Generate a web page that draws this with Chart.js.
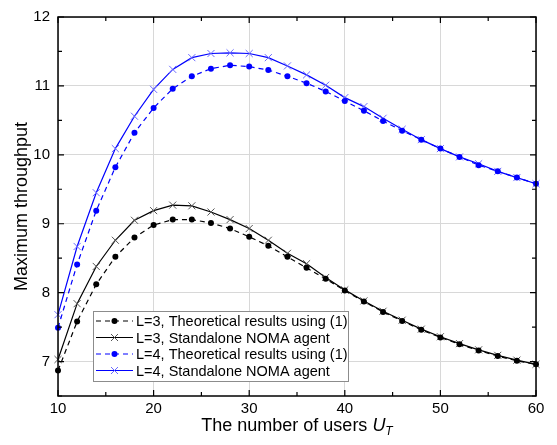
<!DOCTYPE html>
<html>
<head>
<meta charset="utf-8">
<script src="https://cdn.jsdelivr.net/npm/chart.js@4.4.1/dist/chart.umd.min.js"></script>
<style>
  body { margin: 0; background: #fff; }
  #wrap { width: 557px; height: 445px; }
</style>
</head>
<body>
<div id="wrap"><canvas id="graphicLine" width="557" height="445"></canvas></div>
<script>
// number of users
const users = [10, 12, 14, 16, 18, 20, 22, 24, 26, 28, 30, 32, 34, 36, 38, 40, 42, 44, 46, 48, 50, 52, 54, 56, 58, 60];

const l3Theory = [6.87, 7.58, 8.12, 8.52, 8.80, 8.98, 9.06, 9.06, 9.01, 8.93, 8.81, 8.68, 8.52,
                  8.36, 8.20, 8.03, 7.87, 7.72, 7.59, 7.46, 7.35, 7.25, 7.16, 7.08, 7.01, 6.96];
const l3Agent = [7.03, 7.84, 8.38, 8.76, 9.05, 9.19, 9.27, 9.26, 9.17, 9.06, 8.93, 8.76, 8.57,
                 8.42, 8.22, 8.04, 7.88, 7.73, 7.60, 7.47, 7.36, 7.26, 7.17, 7.09, 7.02, 6.96];
const l4Theory = [7.49, 8.41, 9.19, 9.82, 10.32, 10.68, 10.96, 11.14, 11.25, 11.30, 11.28, 11.23, 11.14,
                  11.04, 10.92, 10.78, 10.64, 10.49, 10.35, 10.22, 10.09, 9.97, 9.85, 9.76, 9.67, 9.58];
const l4Agent = [7.68, 8.67, 9.45, 10.09, 10.56, 10.95, 11.24, 11.41, 11.47, 11.48, 11.47, 11.41, 11.29,
                 11.16, 11.01, 10.83, 10.70, 10.53, 10.37, 10.22, 10.09, 9.97, 9.87, 9.76, 9.67, 9.58];

const seriesLabels = [
    "L=3, Theoretical results using (1)",
    "L=3, Standalone NOMA agent",
    "L=4, Theoretical results using (1)",
    "L=4, Standalone NOMA agent",
];

const xTicks = [10, 20, 30, 40, 50, 60];
const yTicks = [7, 8, 9, 10, 11, 12];

const FONT = "Liberation Sans, Arial, sans-serif";

const toPts = (vals) => vals.map((v, i) => ({ x: users[i], y: v }));

function dots(label, vals, color) {
    return {
        label: label,
        data: toPts(vals),
        borderColor: color,
        backgroundColor: color,
        borderWidth: 1.2,
        borderDash: [5, 4],
        pointStyle: "circle",
        pointRadius: 3,
        pointBorderWidth: 0,
        tension: 0,
        clip: false,
    };
}

function crosses(label, vals, color, markColor) {
    return {
        label: label,
        data: toPts(vals),
        borderColor: color,
        backgroundColor: color,
        borderWidth: 1.2,
        pointStyle: "crossRot",
        pointRadius: 5,
        pointBorderColor: markColor,
        pointBorderWidth: 1,
        tension: 0,
        clip: false,
    };
}

// frame, inward ticks, legend box and axis titles
const framePlugin = {
    id: "frame",
    afterDraw(chart) {
        const ctx = chart.ctx;
        const a = chart.chartArea;
        const xs = chart.scales.x;
        const ys = chart.scales.y;
        ctx.save();
        ctx.strokeStyle = "#000";
        ctx.lineWidth = 1.5;
        ctx.strokeRect(a.left, a.top, a.right - a.left, a.bottom - a.top);

        ctx.lineWidth = 1.2;
        ctx.beginPath();
        for (let v = 10; v <= 60; v += 5) {
            const len = v % 10 === 0 ? 6 : 4;
            const px = xs.getPixelForValue(v);
            ctx.moveTo(px, a.bottom); ctx.lineTo(px, a.bottom - len);
            ctx.moveTo(px, a.top); ctx.lineTo(px, a.top + len);
        }
        for (let v = 6.5; v <= 12; v += 0.5) {
            const len = v % 1 === 0 ? 6 : 4;
            const py = ys.getPixelForValue(v);
            ctx.moveTo(a.left, py); ctx.lineTo(a.left + len, py);
            ctx.moveTo(a.right, py); ctx.lineTo(a.right - len, py);
        }
        ctx.stroke();

        // legend
        const bx = a.left + 35, bw = 255, bh = 70;
        const by = a.bottom - 15 - bh;
        ctx.fillStyle = "#fff";
        ctx.fillRect(bx, by, bw, bh);
        ctx.strokeStyle = "#8c8c8c";
        ctx.lineWidth = 1;
        ctx.strokeRect(bx + 0.5, by + 0.5, bw, bh);
        ctx.font = "14.5px " + FONT;
        ctx.textBaseline = "middle";
        chart.data.datasets.forEach((ds, i) => {
            const cy = by + 10 + i * 16.5;
            const x0 = bx + 3, x1 = bx + 40, xm = (x0 + x1) / 2;
            ctx.strokeStyle = ds.borderColor;
            ctx.lineWidth = 1.2;
            ctx.setLineDash(ds.borderDash || []);
            ctx.beginPath();
            ctx.moveTo(x0, cy); ctx.lineTo(x1, cy);
            ctx.stroke();
            ctx.setLineDash([]);
            if (ds.pointStyle === "circle") {
                ctx.fillStyle = ds.backgroundColor;
                ctx.beginPath();
                ctx.arc(xm, cy, 3, 0, Math.PI * 2);
                ctx.fill();
            } else {
                ctx.strokeStyle = ds.pointBorderColor;
                ctx.lineWidth = 1;
                const r = 3.5;
                ctx.beginPath();
                ctx.moveTo(xm - r, cy - r); ctx.lineTo(xm + r, cy + r);
                ctx.moveTo(xm - r, cy + r); ctx.lineTo(xm + r, cy - r);
                ctx.stroke();
            }
            ctx.fillStyle = "#000";
            ctx.textAlign = "left";
            ctx.fillText(ds.label, x1 + 3, cy + 1);
        });

        // axis titles
        ctx.fillStyle = "#000";
        ctx.font = "18px " + FONT;
        ctx.textBaseline = "alphabetic";
        const main = "The number of users ";
        ctx.font = "18px " + FONT;
        const w1 = ctx.measureText(main).width;
        ctx.font = "italic 18px " + FONT;
        const w2 = ctx.measureText("U").width;
        ctx.font = "italic 12px " + FONT;
        const w3 = ctx.measureText("T").width;
        const cx = (a.left + a.right) / 2;
        let tx = cx - (w1 + w2 + w3) / 2;
        const ty = 431;
        ctx.textAlign = "left";
        ctx.font = "18px " + FONT;
        ctx.fillText(main, tx, ty);
        ctx.font = "italic 18px " + FONT;
        ctx.fillText("U", tx + w1, ty);
        ctx.font = "italic 12px " + FONT;
        ctx.fillText("T", tx + w1 + w2, ty + 4);

        ctx.translate(27, (a.top + a.bottom) / 2);
        ctx.rotate(-Math.PI / 2);
        ctx.textAlign = "center";
        ctx.font = "18px " + FONT;
        ctx.fillText("Maximum throughput", 0, 0);
        ctx.restore();
    },
};

const graphicLine = document.getElementById("graphicLine");

new Chart(graphicLine, {
    type: "line",
    data: {
        datasets: [
            dots(seriesLabels[0], l3Theory, "#000000"),
            crosses(seriesLabels[1], l3Agent, "#000000", "#555555"),
            dots(seriesLabels[2], l4Theory, "#0000ff"),
            crosses(seriesLabels[3], l4Agent, "#0000ff", "#6a6aff"),
        ],
    },
    options: {
        responsive: false,
        animation: false,
        layout: { padding: { top: 13, right: 21, left: 0, bottom: 0 } },
        plugins: {
            legend: { display: false },
            tooltip: { enabled: false },
        },
        scales: {
            x: {
                type: "linear",
                min: 10,
                max: 60,
                afterBuildTicks: (s) => { s.ticks = xTicks.map((v) => ({ value: v })); },
                afterFit: (s) => { s.height = 49; },
                ticks: {
                    color: "#000",
                    font: { family: FONT, size: 15 },
                    padding: 4,
                    maxRotation: 0,
                },
                grid: { color: "#d8d8d8", lineWidth: 1, drawTicks: false },
                border: { display: false },
            },
            y: {
                min: 6.5,
                max: 12,
                afterBuildTicks: (s) => { s.ticks = yTicks.map((v) => ({ value: v })); },
                afterFit: (s) => { s.width = 58; },
                ticks: {
                    color: "#000",
                    font: { family: FONT, size: 15 },
                    padding: 8,
                },
                grid: { color: "#d8d8d8", lineWidth: 1, drawTicks: false },
                border: { display: false },
            },
        },
    },
    plugins: [framePlugin],
});
</script>
</body>
</html>
